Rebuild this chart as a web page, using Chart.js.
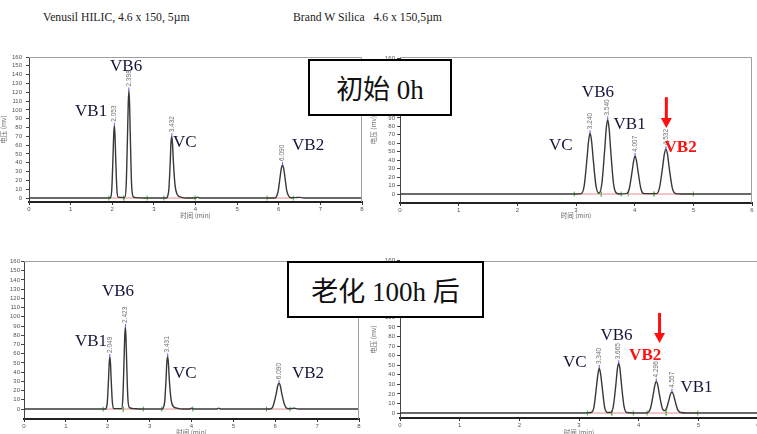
<!DOCTYPE html>
<html><head><meta charset="utf-8">
<script src="https://cdn.jsdelivr.net/npm/chart.js@4"></script>
<style>
html,body{margin:0;padding:0;background:#fff;overflow:hidden;width:757px;height:434px;position:relative}
.wrap{position:absolute}
.box{position:absolute;border:2px solid #000;background:#fff;box-sizing:border-box;display:flex;align-items:center;justify-content:center;font-family:"Liberation Serif","Noto Sans CJK SC",serif;font-size:27px;color:#111;white-space:pre;z-index:5}
.title{position:absolute;font-family:"Liberation Serif",serif;font-size:13px;color:#222;white-space:pre;transform-origin:0 0;transform:scaleX(0.9)}
</style></head><body>
<div class="title" style="left:43px;top:9px">Venusil HILIC, 4.6 x 150, 5µm</div>
<div class="title" style="left:293px;top:9px">Brand W Silica   4.6 x 150,5µm</div>
<div class="wrap" style="left:0;top:40px"><canvas id="tl" width="375" height="179"></canvas></div>
<div class="wrap" style="left:370px;top:40px"><canvas id="tr" width="387" height="179"></canvas></div>
<div class="wrap" style="left:0;top:240px"><canvas id="bl" width="375" height="196"></canvas></div>
<div class="wrap" style="left:370px;top:240px"><canvas id="br" width="395" height="196"></canvas></div>
<div class="box" style="left:308px;top:59px;width:144px;height:57px">初始 0h</div>
<div class="box" style="left:287px;top:261px;width:197px;height:57px">老化 100h 后</div>
<script>
// ---- tick labels ----
const xTicksLeft = [0,1,2,3,4,5,6,7,8];
const xTicksRight = [0,1,2,3,4,5,6];
const yTicks = [0,10,20,30,40,50,60,70,80,90,100,110,120,130,140,150,160];

// ---- Venusil HILIC, 0h ----
const tlTrace = [[0,0],[1.92,0],[1.96,0.5],[1.99,11],[2.02,50],[2.035,72],[2.05,82],[2.065,72],[2.08,50],[2.11,11],[2.14,1],[2.30,0.5],[2.336,16],[2.368,74],[2.384,107],[2.40,122],[2.416,107],[2.432,74],[2.464,16],[2.50,2],[2.56,0.5],[2.8,0],[3.30,0],[3.33,2],[3.36,10],[3.395,43],[3.41,62],[3.43,70],[3.45,60],[3.47,40],[3.51,14],[3.56,4],[3.65,1],[3.8,0],[4.0,0],[4.05,1],[4.1,0],[5.9,0],[5.95,2],[5.99,9],[6.03,23],[6.06,33],[6.09,37.5],[6.12,33],[6.15,23],[6.19,9],[6.24,2],[6.30,0.3],[6.4,0.5],[6.5,0.8],[6.6,0],[8,0]];
const tlRT = [2.053,2.398,3.432,6.090];
const tlApex = [82,122,70,37.5];
const tlNames = ['VB1','VB6','VC','VB2'];
const tlNameAt = [[1.106,97.6],[1.947,149],[3.46,62.4],[6.32,60]];
const tlBaselines = [[1.92,2.28],[2.28,2.84],[3.24,3.99],[5.72,6.35]];

// ---- Brand W Silica, 0h ----
const trTrace = [[0,0],[3.0,0],[3.09,0.5],[3.14,10],[3.19,44],[3.215,63],[3.24,72],[3.265,63],[3.29,44],[3.34,10],[3.39,1],[3.44,12],[3.49,53],[3.515,77],[3.54,88],[3.565,77],[3.59,53],[3.64,12],[3.69,1],[3.75,0],[3.86,0.5],[3.907,6],[3.957,27],[3.982,39],[4.007,45],[4.032,39],[4.057,27],[4.107,6],[4.16,0.5],[4.37,0.5],[4.422,7],[4.477,32],[4.505,47],[4.532,53],[4.56,47],[4.587,32],[4.642,7],[4.70,0.5],[4.8,0],[6,0]];
const trRT = [3.240,3.540,4.007,4.532];
const trApex = [72,88,45,53];
const trNames = ['VC','VB6','VB1','VB2'];
const trNameAt = [[2.54,57.9],[3.10,119.8],[3.64,82.6],[4.51,54.3]];
const trBaselines = [[2.97,3.43],[3.43,3.77],[3.89,4.33],[4.33,5.0]];
const trArrow = [4.54,114.5,78];

// ---- Venusil HILIC, 100h ----
const blTrace = [[0,0],[1.95,0],[1.96,0.5],[1.99,7.5],[2.02,34],[2.035,50],[2.05,56.5],[2.065,50],[2.08,34],[2.11,7.5],[2.15,0.5],[2.33,0.5],[2.36,12],[2.39,54],[2.405,78],[2.42,89],[2.435,78],[2.45,54],[2.48,12],[2.52,1.5],[2.6,0.5],[2.8,0],[3.30,0],[3.33,2],[3.36,8],[3.395,35],[3.41,50],[3.43,57],[3.45,49],[3.47,32],[3.51,11],[3.56,3],[3.65,1],[3.8,0],[3.95,0],[4.0,1],[4.05,0],[4.6,0],[4.65,1],[4.7,0],[5.88,0],[5.93,1.5],[5.96,5],[6.025,17],[6.058,25],[6.09,28],[6.122,25],[6.155,17],[6.22,5],[6.27,1],[6.35,0.3],[6.45,0.8],[6.55,0],[8,0]];
const blRT = [2.049,2.423,3.431,6.090];
const blApex = [56.5,89,57,28];
const blNames = ['VB1','VB6','VC','VB2'];
const blNameAt = [[1.217,73.5],[1.86,127.6],[3.56,38.4],[6.40,38.4]];
const blBaselines = [[1.89,2.37],[2.37,2.85],[3.29,4.03],[5.79,6.35]];

// ---- Brand W Silica, 100h ----
const brTrace = [[0,0],[3.1,0],[3.20,0.5],[3.25,6],[3.295,29],[3.318,41],[3.34,47],[3.362,41],[3.385,29],[3.43,6],[3.48,0.5],[3.53,0.5],[3.575,7],[3.62,31],[3.643,46],[3.665,52],[3.687,46],[3.71,31],[3.755,7],[3.80,0.5],[3.9,0],[4.1,0],[4.15,0.5],[4.196,4.5],[4.246,20],[4.271,29],[4.296,33],[4.321,29],[4.346,20],[4.396,5],[4.43,2.5],[4.457,3.5],[4.507,13.5],[4.532,19.5],[4.557,22],[4.582,19.5],[4.607,13.5],[4.657,3],[4.71,0.5],[4.8,0],[6,0]];
const brRT = [3.340,3.665,4.296,4.557];
const brApex = [47,52,33,22];
const brNames = ['VC','VB6','VB2','VB1'];
const brNameAt = [[2.73,52.9],[3.36,80.6],[3.84,59.7],[4.70,26.7]];
const brBaselines = [[3.14,3.55],[3.55,3.91],[4.14,4.46],[4.46,4.99]];
const brArrow = [4.35,104.7,73.3];

function makeAnnot(o){
  return {
    id:'annot',
    afterDatasetsDraw(chart){
      const {ctx, chartArea:a, scales:{x,y}} = chart;
      ctx.save();
      ctx.strokeStyle='#a0a0a0'; ctx.lineWidth=1;
      ctx.beginPath(); ctx.moveTo(a.left, a.top+0.5); ctx.lineTo(a.right-0.5, a.top+0.5); ctx.lineTo(a.right-0.5, a.bottom); ctx.stroke();
      o.rt.forEach((t,i)=>{
        const px=x.getPixelForValue(t), py=y.getPixelForValue(o.apex[i]);
        ctx.strokeStyle='#6f6fff'; ctx.lineWidth=1.2;
        ctx.beginPath(); ctx.moveTo(px,py); ctx.lineTo(px,py-3); ctx.stroke();
        ctx.save(); ctx.translate(px, py-4); ctx.rotate(-Math.PI/2);
        ctx.font='6.5px "Liberation Sans"'; ctx.fillStyle='#707070';
        ctx.textAlign='left'; ctx.textBaseline='middle';
        ctx.fillText(t.toFixed(3),0,0); ctx.restore();
      });
      o.names.forEach((n,i)=>{
        const [t,v]=o.nameAt[i];
        const red=(o.red===n);
        ctx.font=(red?'bold ':'')+'17px "Liberation Serif"';
        ctx.fillStyle=red?'#ff1010':'#15153c';
        ctx.textAlign='left'; ctx.textBaseline='middle';
        ctx.fillText(n, x.getPixelForValue(t), y.getPixelForValue(v));
      });
      if(o.arrow){
        const px=x.getPixelForValue(o.arrow[0]);
        const y0=y.getPixelForValue(o.arrow[1]), y1=y.getPixelForValue(o.arrow[2]);
        ctx.strokeStyle='#ff1010'; ctx.fillStyle='#ff1010'; ctx.lineWidth=3;
        ctx.beginPath(); ctx.moveTo(px,y0); ctx.lineTo(px,y1-9); ctx.stroke();
        ctx.beginPath(); ctx.moveTo(px-5.5,y1-10); ctx.lineTo(px+5.5,y1-10); ctx.lineTo(px,y1); ctx.closePath(); ctx.fill();
      }
      ctx.restore();
    }
  };
}

function panel(id,o){
  const base=[], ends=[];
  o.baselines.forEach(([a,b])=>{ base.push({x:a,y:0},{x:b,y:0},{x:b,y:null}); ends.push({x:a,y:0},{x:b,y:0}); });
  const tickFont={size:6,family:'Liberation Sans'};
  new Chart(document.getElementById(id),{
    type:'line',
    data:{datasets:[
      {data:o.trace.map(([x,y])=>({x,y})), borderColor:'#383838', borderWidth:1.4, pointRadius:0, cubicInterpolationMode:'monotone'},
      {data:base, borderColor:'rgba(225,120,120,0.85)', borderWidth:1, pointRadius:0, spanGaps:false},
      {data:ends, showLine:false, pointStyle:'line', rotation:90, pointRadius:2.5, borderColor:'#3cbf3c', borderWidth:1}
    ]},
    options:{
      responsive:false, animation:false, events:[],
      layout:{padding:o.pad},
      plugins:{legend:{display:false}, tooltip:{enabled:false}},
      scales:{
        x:{type:'linear', min:0, max:o.xmax,
          afterBuildTicks:s=>{s.ticks=o.xTicks.map(v=>({value:v}));},
          afterFit:s=>{s.height=o.xh;},
          ticks:{font:tickFont,color:'#555',padding:1,maxRotation:0,autoSkip:false},
          grid:{drawOnChartArea:false,tickLength:3,color:'#333'},
          border:{color:'#222',width:2},
          title:{display:true,text:'时间 (min)',font:{size:6.5,family:'Noto Sans CJK SC'},color:'#666',padding:0}},
        y:{min:o.ymin, max:o.ymax,
          afterBuildTicks:s=>{s.ticks=yTicks.map(v=>({value:v}));},
          afterFit:s=>{s.width=o.yw;},
          ticks:{font:tickFont,color:'#555',padding:o.ypad,autoSkip:false},
          grid:{drawOnChartArea:false,tickLength:3,color:'#444'},
          border:{color:'#444',width:1},
          title:{display:o.ytitle,text:'电压 (mv)',font:{size:6.5,family:'Noto Sans CJK SC'},color:'#777',padding:0}}
      }
    },
    plugins:[makeAnnot(o)]
  });
}

panel('tl',{trace:tlTrace,rt:tlRT,apex:tlApex,names:tlNames,nameAt:tlNameAt,baselines:tlBaselines,
  xmax:8,xTicks:xTicksLeft,ymin:-4.5,ymax:160,pad:{top:17,right:13,left:0,bottom:0},xh:17,yw:29,ypad:4,ytitle:true});
panel('tr',{trace:trTrace,rt:trRT,apex:trApex,names:trNames,nameAt:trNameAt,baselines:trBaselines,red:'VB2',arrow:trArrow,
  xmax:6,xTicks:xTicksRight,ymin:-10.6,ymax:162,pad:{top:17,right:3,left:0,bottom:0},xh:16,yw:30,ypad:2,ytitle:true});
panel('bl',{trace:blTrace,rt:blRT,apex:blApex,names:blNames,nameAt:blNameAt,baselines:blBaselines,
  xmax:8,xTicks:xTicksLeft,ymin:-10.8,ymax:160.5,pad:{top:21,right:16,left:0,bottom:0},xh:17,yw:24,ypad:1,ytitle:false});
panel('br',{trace:brTrace,rt:brRT,apex:brApex,names:brNames,nameAt:brNameAt,baselines:brBaselines,red:'VB2',arrow:brArrow,
  xmax:6,xTicks:xTicksRight,ymin:-5.2,ymax:159,pad:{top:21,right:7,left:0,bottom:0},xh:18,yw:30,ypad:2,ytitle:true});
</script>
</body></html>
